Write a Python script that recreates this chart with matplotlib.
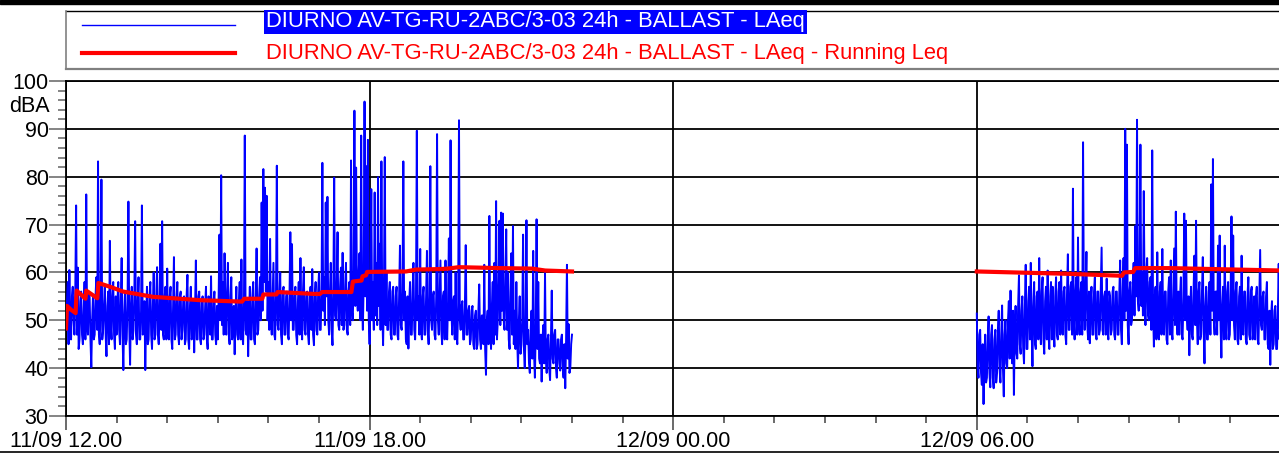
import matplotlib
matplotlib.use("Agg")
import matplotlib.pyplot as plt
import numpy as np
from matplotlib.lines import Line2D
from matplotlib.patches import Rectangle
from matplotlib.ticker import FixedLocator, MultipleLocator, FuncFormatter

plt.rcParams["font.family"] = ["Liberation Sans", "DejaVu Sans"]

SERIES = "DIURNO AV-TG-RU-2ABC/3-03 24h - BALLAST - LAeq"
MIN_H = 1 / 60  # one minute in hours

# LAeq, dBA, even minutes from 11/09 12:00 (one row = 30 min)
laeq_day1_even = [
    48, 58, 60.5, 46, 57, 47, 74.0, 61, 46, 56, 45, 58, 76.3, 47, 55,
    40.2, 55, 47, 59, 83.2, 45, 79.4, 48, 57, 42.5, 56, 66.6, 46, 58, 44,
    47, 58, 45, 63.0, 39.6, 56, 46, 74.8, 40.7, 57, 48, 70.7, 45, 59, 46,
    74.0, 48, 39.6, 57, 46, 58, 44, 60, 47, 61.1, 45, 66, 70.7, 46, 57,
    60.8, 46, 57, 44, 63.2, 47, 58, 45, 56, 48, 55, 46, 59.5, 44, 57,
    47, 43.3, 62.5, 46, 56, 45, 55, 47, 57, 44, 54, 59.2, 46, 56, 45,
    46, 67.9, 80.3, 58, 64.0, 47, 62, 45, 59, 48, 42.9, 57, 46, 58, 62.7,
    45, 88.6, 47, 42.5, 57, 46, 58, 45, 65.0, 48, 59, 74.6, 81.6, 77.7, 76.0,
    58, 67, 47, 62, 46, 82.3, 48, 60, 45, 57, 47, 56, 46, 68.4, 65.9,
    48, 57, 45, 58, 63.0, 46, 61.1, 47, 56, 45, 57, 60.7, 44.8, 58, 47,
    60, 48, 82.9, 59, 74.6, 75.8, 47, 62, 44.8, 79.8, 50, 68.4, 48, 61, 64.1,
    49, 62, 47, 58, 83.4, 50, 93.8, 81.9, 52, 64, 88.6, 48, 95.7, 82.2, 87.7,
    45, 77.4, 58, 76.7, 62, 79.9, 66, 83.2, 44.8, 84.1, 60, 48, 58, 46, 57,
    47, 57, 46, 65.6, 48, 83.2, 56, 45, 44.1, 58, 47, 62, 46, 89.6, 55,
    64.9, 46, 57, 47, 64.5, 45, 82.2, 48, 56, 46, 88.9, 47, 62.5, 45, 56,
    62.5, 46, 67.1, 87.6, 47, 55, 60.0, 45, 91.8, 48, 54, 46, 65.7, 47, 53,
    46, 53, 44, 52, 45, 57.5, 44, 51, 61.6, 38.6, 52, 71.8, 44, 58, 62,
    74.9, 50, 70.8, 72.5, 72.3, 48, 69.0, 60, 44, 64, 69.7, 52, 58, 40.0, 55,
    45, 67.9, 40, 70.9, 48, 39, 52, 64.5, 38, 71.1, 58, 41, 37.2, 49, 59.9,
    39, 47, 37.5, 56.2, 41, 48, 38, 46, 39.5, 47, 38, 35.8, 61.6, 49.2, 40,
    47,
]
# LAeq, dBA, odd minutes from 11/09 12:01
laeq_day1_odd = [
    53, 45, 49, 55, 50, 56, 47, 44, 54, 47, 52, 46, 49, 56, 46,
    50, 46, 55, 48, 47, 54, 46, 53, 47, 53, 45, 49, 55, 47, 55,
    54, 48, 55, 47, 51, 45, 54, 49, 53, 46, 55, 47, 54, 46, 52,
    47, 54, 50, 45, 55, 47, 53, 46, 55, 47, 54, 48, 47, 55, 46,
    47, 55, 46, 53, 46, 54, 47, 55, 46, 54, 45, 55, 46, 53, 46,
    54, 52, 46, 55, 46, 54, 46, 53, 46, 55, 47, 46, 54, 47, 53,
    55, 50, 49, 47, 52, 56, 47, 55, 46, 53, 52, 47, 54, 46, 47,
    53, 48, 54, 51, 46, 55, 46, 54, 47, 55, 50, 52, 58, 56, 50,
    48, 50, 55, 47, 55, 49, 55, 47, 56, 47, 55, 47, 55, 50, 48,
    55, 47, 54, 47, 49, 56, 48, 55, 47, 55, 48, 47, 55, 48, 56,
    48, 56, 52, 49, 55, 50, 56, 48, 56, 51, 57, 49, 57, 49, 48,
    57, 48, 56, 49, 52, 57, 53, 55, 60, 50, 54, 58, 55, 52, 50,
    55, 50, 48, 51, 49, 53, 48, 52, 56, 49, 48, 56, 47, 56, 47,
    55, 47, 55, 49, 56, 50, 46, 55, 54, 47, 56, 48, 55, 50, 47,
    48, 55, 47, 55, 48, 55, 50, 55, 47, 55, 50, 55, 48, 55, 46,
    48, 54, 50, 52, 54, 46, 47, 53, 50, 53, 46, 53, 47, 52, 45,
    52, 45, 51, 44, 52, 46, 51, 45, 44, 50, 45, 48, 53, 45, 47,
    46, 58, 49, 52, 50, 57, 48, 46, 56, 47, 45, 44, 46, 50, 43,
    50, 44, 49, 45, 41, 48, 42, 43, 48, 44, 42, 47, 46, 41, 42,
    46, 40, 46, 42, 47, 40, 46, 41, 46, 40, 45, 46, 42, 39, 45,
]

# LAeq, dBA, even minutes from 12/09 06:00 (one row = 30 min)
laeq_day2_even = [
    51.4, 38, 48, 36.5, 32.5, 47, 38, 50.8, 36, 49, 35.8, 48, 39, 52, 37,
    53.1, 34.1, 50, 40, 54, 56.2, 41, 34.4, 53, 42, 59.4, 43, 55, 41, 61.6,
    44, 57, 62.0, 40.4, 58, 44, 56, 63.0, 45, 59, 43, 57, 60.4, 44, 58,
    57, 44.5, 59, 46, 58, 60.4, 47, 57, 45, 63.8, 48, 58, 77.5, 46, 59,
    67.3, 47, 58, 87.2, 48, 64.3, 46, 45.2, 57, 47, 59, 46, 56, 48, 65.2,
    47, 56, 58.7, 46, 55, 48, 57, 46, 56, 47, 62.5, 45, 63.0, 90.0, 86.7,
    45.0, 58, 50, 62, 69.7, 91.9, 52, 86.7, 60, 77.0, 49, 63, 50, 59, 85.5,
    44.5, 57, 64.2, 46, 58, 64.9, 47, 56, 45, 59, 62.5, 46, 65.0, 72.7, 47,
    47, 59, 46, 72.3, 70.8, 48, 42.7, 57, 46, 63.5, 70.8, 45, 58, 47, 63.2,
    41.0, 57, 46, 58, 78.4, 83.7, 47, 56, 65.6, 67.7, 42.2, 57, 65.6, 46, 58,
    47, 71.7, 67.7, 46, 58, 45, 57, 63.5, 47, 56, 45, 59, 46, 57, 48,
    46, 57, 45, 64.7, 48, 56, 46, 58, 44, 40.7, 54, 45, 53, 44, 61.8,
    50,
]
# LAeq, dBA, odd minutes from 12/09 06:01
laeq_day2_odd = [
    40, 47, 39, 45, 43, 37, 46, 39, 47, 38, 46, 37, 48, 40, 47,
    40, 47, 41, 50, 42, 44, 52, 48, 43, 53, 45, 52, 44, 53, 44,
    54, 46, 48, 53, 45, 55, 46, 50, 56, 46, 54, 46, 47, 55, 46,
    48, 55, 47, 56, 47, 49, 56, 47, 56, 48, 57, 47, 50, 56, 47,
    50, 56, 47, 52, 57, 49, 56, 54, 47, 56, 47, 56, 47, 57, 48,
    55, 47, 48, 56, 47, 56, 47, 56, 47, 56, 48, 56, 50, 52, 49,
    56, 49, 58, 51, 55, 54, 60, 53, 51, 55, 60, 51, 58, 48, 52,
    55, 46, 48, 56, 47, 48, 56, 46, 56, 47, 48, 56, 49, 52, 56,
    55, 47, 55, 50, 51, 55, 52, 47, 56, 49, 50, 56, 46, 56, 48,
    53, 46, 56, 47, 52, 50, 56, 47, 50, 49, 53, 46, 49, 56, 46,
    56, 50, 49, 56, 46, 55, 46, 48, 56, 46, 55, 47, 56, 46, 55,
    55, 46, 55, 49, 55, 46, 55, 45, 52, 51, 44, 52, 44, 52, 46,
]

# running Leq: hours from 11/09 00:00, dBA
run_hours_day1 = [12.0, 12.02, 12.1, 12.19, 12.21, 12.385, 12.40, 12.62, 12.64,
                  12.87, 13.13, 13.72, 14.65, 15.48, 15.52, 15.88, 15.90, 16.16,
                  16.18, 16.92, 17.02, 17.06, 17.64, 17.67, 17.84, 17.86, 17.93,
                  17.95, 18.72, 18.92, 19.39, 19.55, 19.76, 20.58, 21.21, 21.47, 22.0]
run_leq_day1 = [48.3, 53.0, 52.2, 51.5, 56.2, 54.5, 56.2, 54.6, 57.8,
                57.0, 56.0, 54.9, 54.2, 53.9, 54.5, 54.5, 55.4, 55.4,
                55.9, 55.5, 55.5, 55.9, 55.9, 58.1, 58.3, 59.2, 59.4,
                60.1, 60.2, 60.6, 60.7, 60.8, 61.1, 60.9, 60.8, 60.4, 60.2]
run_hours_day2 = [30.0, 31.84, 32.87, 32.91, 33.09, 33.13, 33.82, 36.0]
run_leq_day2 = [60.2, 59.7, 59.3, 60.0, 60.1, 60.9, 60.9, 60.4]

# labelled hours on the time axis
major_hours = [12, 18, 24, 30]

W, H = 1279, 453


def fx(px):
    return px / W


def fy(py):
    return 1 - py / H


def time_label(h, pos):
    return f"{11 + int(h // 24):02d}/09 {int(round(h % 24)):02d}.00"


def merge_minutes(start_h, even, odd):
    vals = np.empty(len(even) + len(odd))
    vals[0::2] = even
    vals[1::2] = odd
    return start_h + np.arange(len(vals)) * MIN_H, vals


fig = plt.figure(figsize=(W / 100, H / 100), dpi=100)
ax = fig.add_axes([fx(66), fy(416), fx(1280.4) - fx(66), fy(81) - fy(416)])

t1, v1 = merge_minutes(12.0, laeq_day1_even, laeq_day1_odd)
t2, v2 = merge_minutes(30.0, laeq_day2_even, laeq_day2_odd)
ax.plot(t1, v1, color="#0000ff", lw=1.4, zorder=3)
ax.plot(t2, v2, color="#0000ff", lw=1.4, zorder=3)
ax.plot(run_hours_day1, run_leq_day1, color="#ff0000", lw=3, zorder=4)
ax.plot(run_hours_day2, run_leq_day2, color="#ff0000", lw=3, zorder=4)

ax.set_xlim(12, 36)
ax.set_ylim(30, 100)
ax.xaxis.set_major_locator(FixedLocator(major_hours))
ax.xaxis.set_minor_locator(MultipleLocator(1))
ax.xaxis.set_major_formatter(FuncFormatter(time_label))
ax.yaxis.set_major_locator(MultipleLocator(10))
ax.yaxis.set_minor_locator(MultipleLocator(2))

ax.grid(which="major", color="black", lw=1.3)
ax.set_axisbelow(True)
for side in ("left", "bottom", "top"):
    ax.spines[side].set_color("black")
    ax.spines[side].set_linewidth(1.3)
ax.spines["right"].set_visible(False)

ax.tick_params(axis="y", which="major", length=12, width=1.2, color="#707070",
               pad=0.5, labelsize=15.5)
ax.tick_params(axis="y", which="minor", length=6, width=1.2, color="#707070")
ax.tick_params(axis="x", which="major", length=10, width=1.2, color="#505050",
               pad=1, labelsize=15.5)
ax.tick_params(axis="x", which="minor", length=5, width=1.2, color="#505050")

fig.text(fx(50), fy(106), "dBA", ha="right", va="center", fontsize=15.5)

# frame bits around the plot
fig.add_artist(Rectangle((0, fy(3.5)), 1, 3.5 / H, color="black",
                         transform=fig.transFigure))
fig.add_artist(Line2D([0, 1], [fy(451.5)] * 2, color="black", lw=1.2,
                      transform=fig.transFigure))

# legend
fig.add_artist(Line2D([fx(66), 1], [fy(10.5)] * 2, color="black", lw=1.0,
                      transform=fig.transFigure))
fig.add_artist(Line2D([fx(66), fx(66)], [fy(10.5), fy(68.5)], color="#808080",
                      lw=1.2, transform=fig.transFigure))
fig.add_artist(Line2D([fx(66), 1], [fy(68.5)] * 2, color="#808080", lw=1.6,
                      transform=fig.transFigure))
fig.add_artist(Line2D([fx(82), fx(235)], [fy(24.5)] * 2, color="#0000ff",
                      lw=1.0, transform=fig.transFigure))
fig.add_artist(Line2D([fx(82), fx(235)], [fy(52.5)] * 2, color="#ff0000",
                      lw=3, transform=fig.transFigure))
fig.text(fx(266), fy(22), SERIES, color="white", va="center", fontsize=15.8,
         bbox=dict(boxstyle="square,pad=0.08", fc="#0000ff", ec="none"))
fig.text(fx(266), fy(53), SERIES + " - Running Leq", color="#ff0000",
         va="center", fontsize=15.8)

fig.savefig("out.png", dpi=100)
